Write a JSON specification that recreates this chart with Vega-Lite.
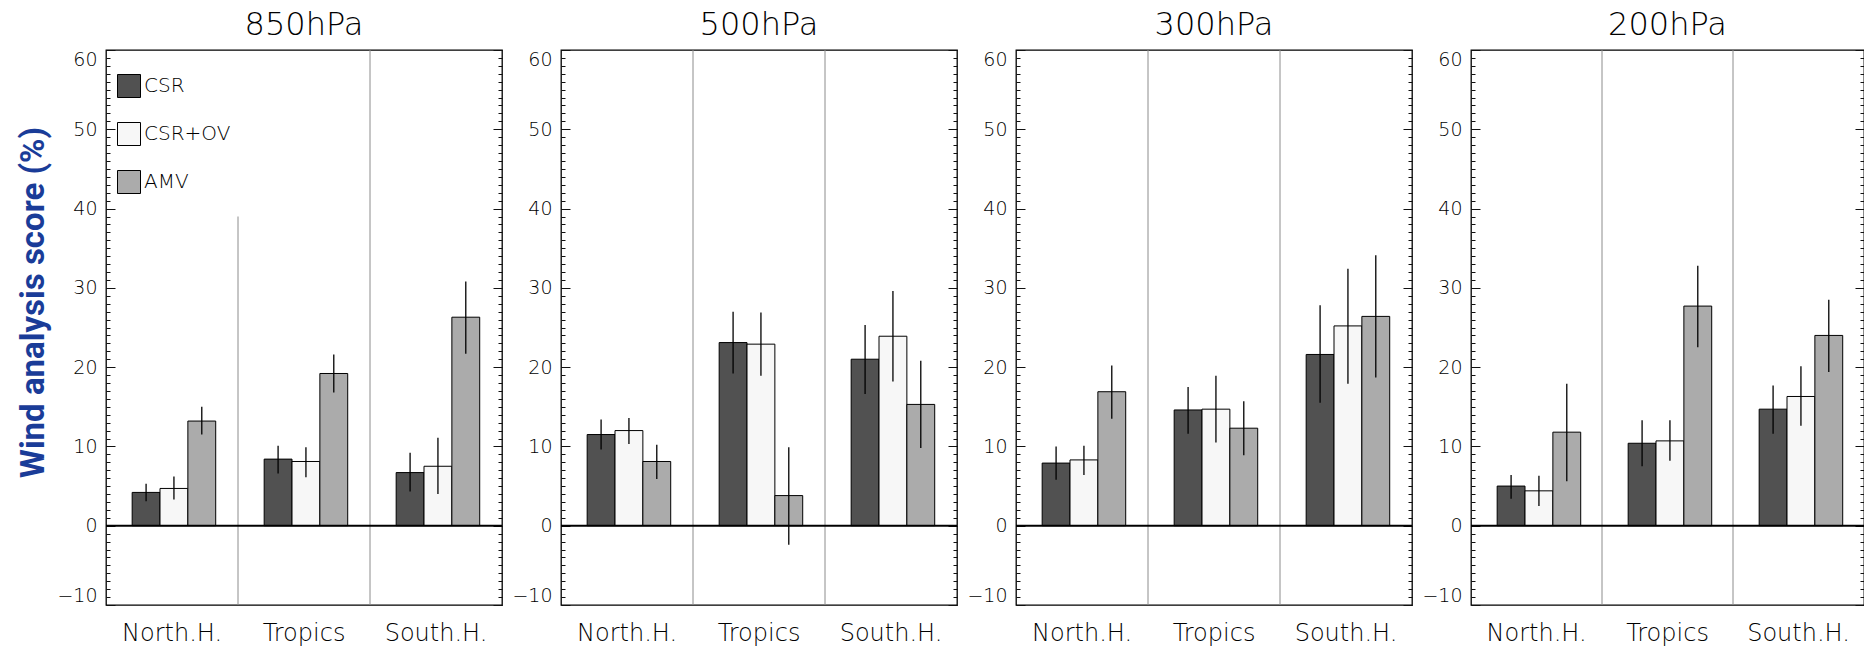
{
  "$schema": "https://vega.github.io/schema/vega-lite/v6.json",
  "autosize": {"type": "pad"},
  "padding": {"left": 16, "top": 7, "right": 0, "bottom": 0},
  "bounds": "flush",
  "spacing": 59,
  "background": "white",
  "datasets": {
    "bars": [
      {"level": "850hPa", "region": "North.H.", "series": "CSR", "value": 4.2, "lo": 3.1, "hi": 5.3},
      {"level": "850hPa", "region": "North.H.", "series": "CSR+OV", "value": 4.7, "lo": 3.3, "hi": 6.2},
      {"level": "850hPa", "region": "North.H.", "series": "AMV", "value": 13.2, "lo": 11.5, "hi": 15.0},
      {"level": "850hPa", "region": "Tropics", "series": "CSR", "value": 8.4, "lo": 6.6, "hi": 10.1},
      {"level": "850hPa", "region": "Tropics", "series": "CSR+OV", "value": 8.1, "lo": 6.1, "hi": 9.9},
      {"level": "850hPa", "region": "Tropics", "series": "AMV", "value": 19.2, "lo": 16.8, "hi": 21.6},
      {"level": "850hPa", "region": "South.H.", "series": "CSR", "value": 6.7, "lo": 4.3, "hi": 9.2},
      {"level": "850hPa", "region": "South.H.", "series": "CSR+OV", "value": 7.5, "lo": 4.0, "hi": 11.1},
      {"level": "850hPa", "region": "South.H.", "series": "AMV", "value": 26.3, "lo": 21.7, "hi": 30.8},
      {"level": "500hPa", "region": "North.H.", "series": "CSR", "value": 11.5, "lo": 9.6, "hi": 13.4},
      {"level": "500hPa", "region": "North.H.", "series": "CSR+OV", "value": 12.0, "lo": 10.3, "hi": 13.6},
      {"level": "500hPa", "region": "North.H.", "series": "AMV", "value": 8.1, "lo": 5.9, "hi": 10.2},
      {"level": "500hPa", "region": "Tropics", "series": "CSR", "value": 23.1, "lo": 19.2, "hi": 27.0},
      {"level": "500hPa", "region": "Tropics", "series": "CSR+OV", "value": 22.9, "lo": 18.9, "hi": 26.9},
      {"level": "500hPa", "region": "Tropics", "series": "AMV", "value": 3.8, "lo": -2.4, "hi": 9.9},
      {"level": "500hPa", "region": "South.H.", "series": "CSR", "value": 21.0, "lo": 16.6, "hi": 25.3},
      {"level": "500hPa", "region": "South.H.", "series": "CSR+OV", "value": 23.9, "lo": 18.2, "hi": 29.6},
      {"level": "500hPa", "region": "South.H.", "series": "AMV", "value": 15.3, "lo": 9.8, "hi": 20.8},
      {"level": "300hPa", "region": "North.H.", "series": "CSR", "value": 7.9, "lo": 5.8, "hi": 10.0},
      {"level": "300hPa", "region": "North.H.", "series": "CSR+OV", "value": 8.3, "lo": 6.4, "hi": 10.1},
      {"level": "300hPa", "region": "North.H.", "series": "AMV", "value": 16.9, "lo": 13.5, "hi": 20.2},
      {"level": "300hPa", "region": "Tropics", "series": "CSR", "value": 14.6, "lo": 11.6, "hi": 17.5},
      {"level": "300hPa", "region": "Tropics", "series": "CSR+OV", "value": 14.7, "lo": 10.5, "hi": 18.9},
      {"level": "300hPa", "region": "Tropics", "series": "AMV", "value": 12.3, "lo": 8.9, "hi": 15.7},
      {"level": "300hPa", "region": "South.H.", "series": "CSR", "value": 21.6, "lo": 15.5, "hi": 27.8},
      {"level": "300hPa", "region": "South.H.", "series": "CSR+OV", "value": 25.2, "lo": 17.9, "hi": 32.4},
      {"level": "300hPa", "region": "South.H.", "series": "AMV", "value": 26.4, "lo": 18.7, "hi": 34.1},
      {"level": "200hPa", "region": "North.H.", "series": "CSR", "value": 5.0, "lo": 3.4, "hi": 6.4},
      {"level": "200hPa", "region": "North.H.", "series": "CSR+OV", "value": 4.4, "lo": 2.5, "hi": 6.3},
      {"level": "200hPa", "region": "North.H.", "series": "AMV", "value": 11.8, "lo": 5.6, "hi": 17.9},
      {"level": "200hPa", "region": "Tropics", "series": "CSR", "value": 10.4, "lo": 7.5, "hi": 13.3},
      {"level": "200hPa", "region": "Tropics", "series": "CSR+OV", "value": 10.7, "lo": 8.2, "hi": 13.3},
      {"level": "200hPa", "region": "Tropics", "series": "AMV", "value": 27.7, "lo": 22.5, "hi": 32.8},
      {"level": "200hPa", "region": "South.H.", "series": "CSR", "value": 14.7, "lo": 11.6, "hi": 17.7},
      {"level": "200hPa", "region": "South.H.", "series": "CSR+OV", "value": 16.3, "lo": 12.6, "hi": 20.1},
      {"level": "200hPa", "region": "South.H.", "series": "AMV", "value": 24.0, "lo": 19.4, "hi": 28.5}
    ],
    "dividers": [
      {"level": "850hPa", "at": "Tropics", "top": 39},
      {"level": "850hPa", "at": "South.H.", "top": 60},
      {"level": "500hPa", "at": "Tropics", "top": 60},
      {"level": "500hPa", "at": "South.H.", "top": 60},
      {"level": "300hPa", "at": "Tropics", "top": 60},
      {"level": "300hPa", "at": "South.H.", "top": 60},
      {"level": "200hPa", "at": "Tropics", "top": 60},
      {"level": "200hPa", "at": "South.H.", "top": 60}
    ],
    "zero": [{"y": 0}]
  },
  "hconcat": [
    {
      "width": 396, "height": 555,
      "title": {"text": "850hPa"},
      "layer": [
        {
          "data": {"name": "dividers"},
          "transform": [{"filter": "datum.level === '850hPa'"}],
          "mark": {"type": "rule", "color": "#8c8c8c", "strokeWidth": 1},
          "encoding": {
            "x": {"field": "at", "type": "nominal", "bandPosition": 0},
            "y": {"field": "top", "type": "quantitative", "axis": {"orient": "right", "offset": -4, "tickSize": 4, "labels": false, "domain": false, "grid": false, "title": null, "values": [-10,-9,-8,-7,-6,-5,-4,-3,-2,-1,0,1,2,3,4,5,6,7,8,9,10,11,12,13,14,15,16,17,18,19,20,21,22,23,24,25,26,27,28,29,30,31,32,33,34,35,36,37,38,39,40,41,42,43,44,45,46,47,48,49,50,51,52,53,54,55,56,57,58,59,60]}},
            "y2": {"datum": -10}
          }
        },
        {
          "data": {"name": "bars"},
          "transform": [{"filter": "datum.level === '850hPa'"}],
          "mark": {"type": "bar", "stroke": "black", "strokeWidth": 1},
          "encoding": {
            "x": {"field": "region", "type": "nominal", "scale": {"domain": ["North.H.", "Tropics", "South.H."], "paddingInner": 0, "paddingOuter": 0}, "axis": {"title": null, "orient": "bottom", "ticks": false, "domain": false, "labelAngle": 0, "labelAlign": "center", "bandPosition": 0.5, "labelPadding": 28}},
            "xOffset": {"field": "series", "type": "nominal", "scale": {"domain": ["CSR", "CSR+OV", "AMV"], "paddingInner": 0, "paddingOuter": 0.87, "align": 0.54}},
            "y": {"field": "value", "type": "quantitative", "scale": {"domain": [-10, 60], "nice": false}, "axis": {"orient": "left", "values": [-10,0,10,20,30,40,50,60], "offset": -9, "tickSize": 9, "domain": false, "grid": false, "labelPadding": 9, "labelFlush": true, "title": "Wind analysis score (%)", "titleFont": "Roboto", "titleFontWeight": "bold", "titleFontSize": 33, "titleColor": "#1a3c98", "titleAngle": -90, "titleAlign": "center", "titleBaseline": "middle", "titleX": -82, "titleY": 252}},
            "color": {"field": "series", "type": "nominal", "scale": {"domain": ["CSR", "CSR+OV", "AMV"], "range": ["#515151", "#f7f7f7", "#ababab"]}, "legend": {"orient": "none", "legendX": 11, "legendY": 24, "title": null, "symbolType": "square", "symbolSize": 529, "symbolStrokeColor": "black", "symbolStrokeWidth": 1, "symbolOpacity": 1, "labelFontSize": 20, "labelFont": "DejaVu Sans", "labelFontWeight": 200, "labelColor": "#000", "labelOffset": 3, "rowPadding": 20, "padding": 0}}
          }
        },
        {
          "data": {"name": "bars"},
          "transform": [{"filter": "datum.level === '850hPa'"}],
          "mark": {"type": "rule", "color": "black", "strokeWidth": 1.3},
          "encoding": {
            "x": {"field": "region", "type": "nominal"},
            "xOffset": {"field": "series", "type": "nominal"},
            "y": {"field": "lo", "type": "quantitative", "axis": {"orient": "left", "offset": -4, "tickSize": 4, "labels": false, "domain": false, "grid": false, "title": null, "values": [-10,-9,-8,-7,-6,-5,-4,-3,-2,-1,0,1,2,3,4,5,6,7,8,9,10,11,12,13,14,15,16,17,18,19,20,21,22,23,24,25,26,27,28,29,30,31,32,33,34,35,36,37,38,39,40,41,42,43,44,45,46,47,48,49,50,51,52,53,54,55,56,57,58,59,60]}},
            "y2": {"field": "hi"}
          }
        },
        {
          "data": {"name": "zero"},
          "mark": {"type": "rule", "color": "black", "strokeWidth": 2},
          "encoding": {
            "y": {"field": "y", "type": "quantitative", "axis": {"orient": "right", "values": [-10,0,10,20,30,40,50,60], "offset": -9, "tickSize": 9, "labels": false, "domain": false, "grid": false, "title": null}}
          }
        }
      ],
      "resolve": {"axis": {"y": "independent"}}
    },
    {
      "width": 396, "height": 555,
      "title": {"text": "500hPa"},
      "layer": [
        {
          "data": {"name": "dividers"},
          "transform": [{"filter": "datum.level === '500hPa'"}],
          "mark": {"type": "rule", "color": "#8c8c8c", "strokeWidth": 1},
          "encoding": {
            "x": {"field": "at", "type": "nominal", "bandPosition": 0},
            "y": {"field": "top", "type": "quantitative", "axis": {"orient": "right", "offset": -4, "tickSize": 4, "labels": false, "domain": false, "grid": false, "title": null, "values": [-10,-9,-8,-7,-6,-5,-4,-3,-2,-1,0,1,2,3,4,5,6,7,8,9,10,11,12,13,14,15,16,17,18,19,20,21,22,23,24,25,26,27,28,29,30,31,32,33,34,35,36,37,38,39,40,41,42,43,44,45,46,47,48,49,50,51,52,53,54,55,56,57,58,59,60]}},
            "y2": {"datum": -10}
          }
        },
        {
          "data": {"name": "bars"},
          "transform": [{"filter": "datum.level === '500hPa'"}],
          "mark": {"type": "bar", "stroke": "black", "strokeWidth": 1},
          "encoding": {
            "x": {"field": "region", "type": "nominal", "scale": {"domain": ["North.H.", "Tropics", "South.H."], "paddingInner": 0, "paddingOuter": 0}, "axis": {"title": null, "orient": "bottom", "ticks": false, "domain": false, "labelAngle": 0, "labelAlign": "center", "bandPosition": 0.5, "labelPadding": 28}},
            "xOffset": {"field": "series", "type": "nominal", "scale": {"domain": ["CSR", "CSR+OV", "AMV"], "paddingInner": 0, "paddingOuter": 0.87, "align": 0.54}},
            "y": {"field": "value", "type": "quantitative", "scale": {"domain": [-10, 60], "nice": false}, "axis": {"orient": "left", "values": [-10,0,10,20,30,40,50,60], "offset": -9, "tickSize": 9, "domain": false, "grid": false, "labelPadding": 9, "labelFlush": true, "title": null}},
            "color": {"field": "series", "type": "nominal", "scale": {"domain": ["CSR", "CSR+OV", "AMV"], "range": ["#515151", "#f7f7f7", "#ababab"]}, "legend": {"orient": "none", "legendX": 11, "legendY": 24, "title": null, "symbolType": "square", "symbolSize": 529, "symbolStrokeColor": "black", "symbolStrokeWidth": 1, "symbolOpacity": 1, "labelFontSize": 20, "labelFont": "DejaVu Sans", "labelFontWeight": 200, "labelColor": "#000", "labelOffset": 3, "rowPadding": 20, "padding": 0}}
          }
        },
        {
          "data": {"name": "bars"},
          "transform": [{"filter": "datum.level === '500hPa'"}],
          "mark": {"type": "rule", "color": "black", "strokeWidth": 1.3},
          "encoding": {
            "x": {"field": "region", "type": "nominal"},
            "xOffset": {"field": "series", "type": "nominal"},
            "y": {"field": "lo", "type": "quantitative", "axis": {"orient": "left", "offset": -4, "tickSize": 4, "labels": false, "domain": false, "grid": false, "title": null, "values": [-10,-9,-8,-7,-6,-5,-4,-3,-2,-1,0,1,2,3,4,5,6,7,8,9,10,11,12,13,14,15,16,17,18,19,20,21,22,23,24,25,26,27,28,29,30,31,32,33,34,35,36,37,38,39,40,41,42,43,44,45,46,47,48,49,50,51,52,53,54,55,56,57,58,59,60]}},
            "y2": {"field": "hi"}
          }
        },
        {
          "data": {"name": "zero"},
          "mark": {"type": "rule", "color": "black", "strokeWidth": 2},
          "encoding": {
            "y": {"field": "y", "type": "quantitative", "axis": {"orient": "right", "values": [-10,0,10,20,30,40,50,60], "offset": -9, "tickSize": 9, "labels": false, "domain": false, "grid": false, "title": null}}
          }
        }
      ],
      "resolve": {"axis": {"y": "independent"}}
    },
    {
      "width": 396, "height": 555,
      "title": {"text": "300hPa"},
      "layer": [
        {
          "data": {"name": "dividers"},
          "transform": [{"filter": "datum.level === '300hPa'"}],
          "mark": {"type": "rule", "color": "#8c8c8c", "strokeWidth": 1},
          "encoding": {
            "x": {"field": "at", "type": "nominal", "bandPosition": 0},
            "y": {"field": "top", "type": "quantitative", "axis": {"orient": "right", "offset": -4, "tickSize": 4, "labels": false, "domain": false, "grid": false, "title": null, "values": [-10,-9,-8,-7,-6,-5,-4,-3,-2,-1,0,1,2,3,4,5,6,7,8,9,10,11,12,13,14,15,16,17,18,19,20,21,22,23,24,25,26,27,28,29,30,31,32,33,34,35,36,37,38,39,40,41,42,43,44,45,46,47,48,49,50,51,52,53,54,55,56,57,58,59,60]}},
            "y2": {"datum": -10}
          }
        },
        {
          "data": {"name": "bars"},
          "transform": [{"filter": "datum.level === '300hPa'"}],
          "mark": {"type": "bar", "stroke": "black", "strokeWidth": 1},
          "encoding": {
            "x": {"field": "region", "type": "nominal", "scale": {"domain": ["North.H.", "Tropics", "South.H."], "paddingInner": 0, "paddingOuter": 0}, "axis": {"title": null, "orient": "bottom", "ticks": false, "domain": false, "labelAngle": 0, "labelAlign": "center", "bandPosition": 0.5, "labelPadding": 28}},
            "xOffset": {"field": "series", "type": "nominal", "scale": {"domain": ["CSR", "CSR+OV", "AMV"], "paddingInner": 0, "paddingOuter": 0.87, "align": 0.54}},
            "y": {"field": "value", "type": "quantitative", "scale": {"domain": [-10, 60], "nice": false}, "axis": {"orient": "left", "values": [-10,0,10,20,30,40,50,60], "offset": -9, "tickSize": 9, "domain": false, "grid": false, "labelPadding": 9, "labelFlush": true, "title": null}},
            "color": {"field": "series", "type": "nominal", "scale": {"domain": ["CSR", "CSR+OV", "AMV"], "range": ["#515151", "#f7f7f7", "#ababab"]}, "legend": {"orient": "none", "legendX": 11, "legendY": 24, "title": null, "symbolType": "square", "symbolSize": 529, "symbolStrokeColor": "black", "symbolStrokeWidth": 1, "symbolOpacity": 1, "labelFontSize": 20, "labelFont": "DejaVu Sans", "labelFontWeight": 200, "labelColor": "#000", "labelOffset": 3, "rowPadding": 20, "padding": 0}}
          }
        },
        {
          "data": {"name": "bars"},
          "transform": [{"filter": "datum.level === '300hPa'"}],
          "mark": {"type": "rule", "color": "black", "strokeWidth": 1.3},
          "encoding": {
            "x": {"field": "region", "type": "nominal"},
            "xOffset": {"field": "series", "type": "nominal"},
            "y": {"field": "lo", "type": "quantitative", "axis": {"orient": "left", "offset": -4, "tickSize": 4, "labels": false, "domain": false, "grid": false, "title": null, "values": [-10,-9,-8,-7,-6,-5,-4,-3,-2,-1,0,1,2,3,4,5,6,7,8,9,10,11,12,13,14,15,16,17,18,19,20,21,22,23,24,25,26,27,28,29,30,31,32,33,34,35,36,37,38,39,40,41,42,43,44,45,46,47,48,49,50,51,52,53,54,55,56,57,58,59,60]}},
            "y2": {"field": "hi"}
          }
        },
        {
          "data": {"name": "zero"},
          "mark": {"type": "rule", "color": "black", "strokeWidth": 2},
          "encoding": {
            "y": {"field": "y", "type": "quantitative", "axis": {"orient": "right", "values": [-10,0,10,20,30,40,50,60], "offset": -9, "tickSize": 9, "labels": false, "domain": false, "grid": false, "title": null}}
          }
        }
      ],
      "resolve": {"axis": {"y": "independent"}}
    },
    {
      "width": 393, "height": 555,
      "title": {"text": "200hPa"},
      "layer": [
        {
          "data": {"name": "dividers"},
          "transform": [{"filter": "datum.level === '200hPa'"}],
          "mark": {"type": "rule", "color": "#8c8c8c", "strokeWidth": 1},
          "encoding": {
            "x": {"field": "at", "type": "nominal", "bandPosition": 0},
            "y": {"field": "top", "type": "quantitative", "axis": {"orient": "right", "offset": -4, "tickSize": 4, "labels": false, "domain": false, "grid": false, "title": null, "values": [-10,-9,-8,-7,-6,-5,-4,-3,-2,-1,0,1,2,3,4,5,6,7,8,9,10,11,12,13,14,15,16,17,18,19,20,21,22,23,24,25,26,27,28,29,30,31,32,33,34,35,36,37,38,39,40,41,42,43,44,45,46,47,48,49,50,51,52,53,54,55,56,57,58,59,60]}},
            "y2": {"datum": -10}
          }
        },
        {
          "data": {"name": "bars"},
          "transform": [{"filter": "datum.level === '200hPa'"}],
          "mark": {"type": "bar", "stroke": "black", "strokeWidth": 1},
          "encoding": {
            "x": {"field": "region", "type": "nominal", "scale": {"domain": ["North.H.", "Tropics", "South.H."], "paddingInner": 0, "paddingOuter": 0}, "axis": {"title": null, "orient": "bottom", "ticks": false, "domain": false, "labelAngle": 0, "labelAlign": "center", "bandPosition": 0.5, "labelPadding": 28}},
            "xOffset": {"field": "series", "type": "nominal", "scale": {"domain": ["CSR", "CSR+OV", "AMV"], "paddingInner": 0, "paddingOuter": 0.87, "align": 0.54}},
            "y": {"field": "value", "type": "quantitative", "scale": {"domain": [-10, 60], "nice": false}, "axis": {"orient": "left", "values": [-10,0,10,20,30,40,50,60], "offset": -9, "tickSize": 9, "domain": false, "grid": false, "labelPadding": 9, "labelFlush": true, "title": null}},
            "color": {"field": "series", "type": "nominal", "scale": {"domain": ["CSR", "CSR+OV", "AMV"], "range": ["#515151", "#f7f7f7", "#ababab"]}, "legend": {"orient": "none", "legendX": 11, "legendY": 24, "title": null, "symbolType": "square", "symbolSize": 529, "symbolStrokeColor": "black", "symbolStrokeWidth": 1, "symbolOpacity": 1, "labelFontSize": 20, "labelFont": "DejaVu Sans", "labelFontWeight": 200, "labelColor": "#000", "labelOffset": 3, "rowPadding": 20, "padding": 0}}
          }
        },
        {
          "data": {"name": "bars"},
          "transform": [{"filter": "datum.level === '200hPa'"}],
          "mark": {"type": "rule", "color": "black", "strokeWidth": 1.3},
          "encoding": {
            "x": {"field": "region", "type": "nominal"},
            "xOffset": {"field": "series", "type": "nominal"},
            "y": {"field": "lo", "type": "quantitative", "axis": {"orient": "left", "offset": -4, "tickSize": 4, "labels": false, "domain": false, "grid": false, "title": null, "values": [-10,-9,-8,-7,-6,-5,-4,-3,-2,-1,0,1,2,3,4,5,6,7,8,9,10,11,12,13,14,15,16,17,18,19,20,21,22,23,24,25,26,27,28,29,30,31,32,33,34,35,36,37,38,39,40,41,42,43,44,45,46,47,48,49,50,51,52,53,54,55,56,57,58,59,60]}},
            "y2": {"field": "hi"}
          }
        },
        {
          "data": {"name": "zero"},
          "mark": {"type": "rule", "color": "black", "strokeWidth": 2},
          "encoding": {
            "y": {"field": "y", "type": "quantitative", "axis": {"orient": "right", "values": [-10,0,10,20,30,40,50,60], "offset": -9, "tickSize": 9, "labels": false, "domain": false, "grid": false, "title": null}}
          }
        }
      ],
      "resolve": {"axis": {"y": "independent"}}
    }
  ],
  "resolve": {"scale": {"color": "shared"}, "legend": {"color": "shared"}},
  "config": {
    "view": {"stroke": "black", "strokeWidth": 1.3},
    "axis": {"labelFont": "DejaVu Sans", "labelFontWeight": 200, "labelColor": "#000", "tickColor": "#111", "tickWidth": 1, "labelOverlap": false, "labelBound": false},
    "axisY": {"labelFontSize": 19, "labelFlush": true},
    "axisX": {"labelFontSize": 24, "labelFlush": false},
    "title": {"font": "DejaVu Sans", "fontWeight": 200, "fontSize": 32, "color": "#000", "frame": "group", "anchor": "middle", "baseline": "alphabetic", "offset": 8}
  }
}
